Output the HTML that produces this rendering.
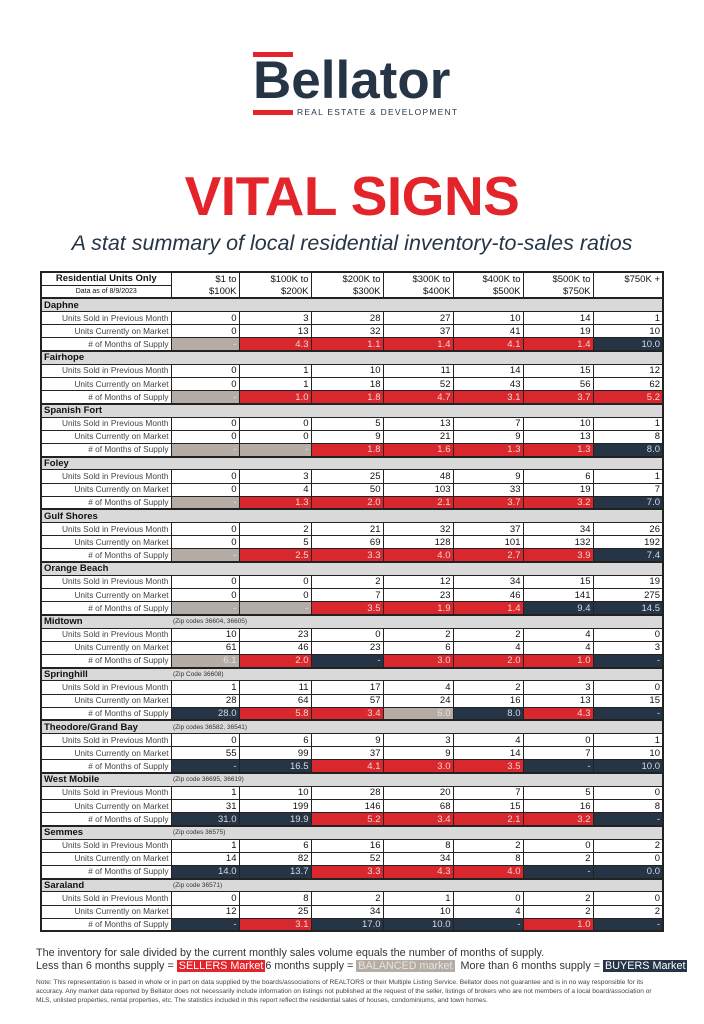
<!DOCTYPE html>
<html><head><meta charset="utf-8"><style>
*{margin:0;padding:0;box-sizing:border-box}
body{width:704px;height:1024px;background:#fff;position:relative;font-family:"Liberation Sans",sans-serif;overflow:hidden}
.bar{position:absolute;background:#e3242b;height:5px;width:40px;left:253px}
.logo{position:absolute;left:253px;top:50px;font-size:53px;font-weight:bold;color:#263545;letter-spacing:0px}
.sub{position:absolute;left:297px;top:107px;font-size:8.4px;color:#263545;letter-spacing:1.3px}
.title{position:absolute;left:0;width:704px;text-align:center;top:164px;font-size:55px;font-weight:bold;color:#e3242b;letter-spacing:-0.5px}
.tag{position:absolute;left:0;width:704px;text-align:center;top:231px;font-size:21.5px;font-style:italic;color:#263545}
table{position:absolute;left:40px;top:271px;border-collapse:collapse;table-layout:fixed;border:2px solid #222;font-size:9.5px}
td{height:13.2px;border:1px solid #222;padding:0 2px;text-align:right;line-height:11px;color:#111;white-space:nowrap;overflow:hidden}
td.l{text-align:right;color:#444;font-size:8.3px;border-left:none}
tr.h td{text-align:right}
tr.s td{background:#d9d9d9;text-align:left;font-weight:bold;border-left:none;border-right:none;border-top:2px solid #222}
tr.s td.z{font-weight:normal;font-size:6.5px;color:#333}
.r{background:#d9272e;color:#f2d4d4}.g{background:#b5ada5;color:#e6e0dc}.n{background:#253546;color:#d8dde2}
.f1{position:absolute;left:36px;top:947px;font-size:10.8px;color:#333}
.f2{position:absolute;left:36px;top:960px;font-size:10.8px;color:#333}
.f2 span{padding:0 2px}
.note{position:absolute;left:36px;top:978px;font-size:6.6px;color:#444;line-height:9px;width:632px}
</style></head><body>
<div class="bar" style="top:52px"></div>
<div class="logo">Bellator</div>
<div class="bar" style="top:110px"></div>
<div class="sub">REAL ESTATE &amp; DEVELOPMENT</div>
<div class="title">VITAL SIGNS</div>
<div class="tag">A stat summary of local residential inventory-to-sales ratios</div>
<table>
<colgroup><col style="width:130px"><col style="width:68px"><col style="width:72px"><col style="width:72px"><col style="width:70px"><col style="width:70px"><col style="width:70px"><col style="width:70px"></colgroup>
<tr class="h"><td style="text-align:center;font-weight:bold;color:#111">Residential Units Only</td><td style="border-bottom:none">$1 to</td><td style="border-bottom:none">$100K to</td><td style="border-bottom:none">$200K to</td><td style="border-bottom:none">$300K to</td><td style="border-bottom:none">$400K to</td><td style="border-bottom:none">$500K to</td><td style="border-bottom:none">$750K +</td></tr>
<tr class="h"><td style="text-align:center;font-size:7px">Data as of 8/9/2023</td><td style="border-top:none">$100K</td><td style="border-top:none">$200K</td><td style="border-top:none">$300K</td><td style="border-top:none">$400K</td><td style="border-top:none">$500K</td><td style="border-top:none">$750K</td><td style="border-top:none"></td></tr>

<tr class="s"><td colspan="8">Daphne</td></tr>
<tr><td class="l">Units Sold in Previous Month</td><td>0</td><td>3</td><td>28</td><td>27</td><td>10</td><td>14</td><td>1</td></tr>
<tr><td class="l">Units Currently on Market</td><td>0</td><td>13</td><td>32</td><td>37</td><td>41</td><td>19</td><td>10</td></tr>
<tr><td class="l"># of Months of Supply</td><td class="g">-</td><td class="r">4.3</td><td class="r">1.1</td><td class="r">1.4</td><td class="r">4.1</td><td class="r">1.4</td><td class="n">10.0</td></tr>

<tr class="s"><td colspan="8">Fairhope</td></tr>
<tr><td class="l">Units Sold in Previous Month</td><td>0</td><td>1</td><td>10</td><td>11</td><td>14</td><td>15</td><td>12</td></tr>
<tr><td class="l">Units Currently on Market</td><td>0</td><td>1</td><td>18</td><td>52</td><td>43</td><td>56</td><td>62</td></tr>
<tr><td class="l"># of Months of Supply</td><td class="g">-</td><td class="r">1.0</td><td class="r">1.8</td><td class="r">4.7</td><td class="r">3.1</td><td class="r">3.7</td><td class="r">5.2</td></tr>

<tr class="s"><td colspan="8">Spanish Fort</td></tr>
<tr><td class="l">Units Sold in Previous Month</td><td>0</td><td>0</td><td>5</td><td>13</td><td>7</td><td>10</td><td>1</td></tr>
<tr><td class="l">Units Currently on Market</td><td>0</td><td>0</td><td>9</td><td>21</td><td>9</td><td>13</td><td>8</td></tr>
<tr><td class="l"># of Months of Supply</td><td class="g">-</td><td class="g">-</td><td class="r">1.8</td><td class="r">1.6</td><td class="r">1.3</td><td class="r">1.3</td><td class="n">8.0</td></tr>

<tr class="s"><td colspan="8">Foley</td></tr>
<tr><td class="l">Units Sold in Previous Month</td><td>0</td><td>3</td><td>25</td><td>48</td><td>9</td><td>6</td><td>1</td></tr>
<tr><td class="l">Units Currently on Market</td><td>0</td><td>4</td><td>50</td><td>103</td><td>33</td><td>19</td><td>7</td></tr>
<tr><td class="l"># of Months of Supply</td><td class="g">-</td><td class="r">1.3</td><td class="r">2.0</td><td class="r">2.1</td><td class="r">3.7</td><td class="r">3.2</td><td class="n">7.0</td></tr>

<tr class="s"><td colspan="8">Gulf Shores</td></tr>
<tr><td class="l">Units Sold in Previous Month</td><td>0</td><td>2</td><td>21</td><td>32</td><td>37</td><td>34</td><td>26</td></tr>
<tr><td class="l">Units Currently on Market</td><td>0</td><td>5</td><td>69</td><td>128</td><td>101</td><td>132</td><td>192</td></tr>
<tr><td class="l"># of Months of Supply</td><td class="g">-</td><td class="r">2.5</td><td class="r">3.3</td><td class="r">4.0</td><td class="r">2.7</td><td class="r">3.9</td><td class="n">7.4</td></tr>

<tr class="s"><td colspan="8">Orange Beach</td></tr>
<tr><td class="l">Units Sold in Previous Month</td><td>0</td><td>0</td><td>2</td><td>12</td><td>34</td><td>15</td><td>19</td></tr>
<tr><td class="l">Units Currently on Market</td><td>0</td><td>0</td><td>7</td><td>23</td><td>46</td><td>141</td><td>275</td></tr>
<tr><td class="l"># of Months of Supply</td><td class="g">-</td><td class="g">-</td><td class="r">3.5</td><td class="r">1.9</td><td class="r">1.4</td><td class="n">9.4</td><td class="n">14.5</td></tr>

<tr class="s"><td>Midtown</td><td colspan="7" class="z">(Zip codes 36604, 36605)</td></tr>
<tr><td class="l">Units Sold in Previous Month</td><td>10</td><td>23</td><td>0</td><td>2</td><td>2</td><td>4</td><td>0</td></tr>
<tr><td class="l">Units Currently on Market</td><td>61</td><td>46</td><td>23</td><td>6</td><td>4</td><td>4</td><td>3</td></tr>
<tr><td class="l"># of Months of Supply</td><td class="g">6.1</td><td class="r">2.0</td><td class="n">-</td><td class="r">3.0</td><td class="r">2.0</td><td class="r">1.0</td><td class="n">-</td></tr>

<tr class="s"><td>Springhill</td><td colspan="7" class="z">(Zip Code 36608)</td></tr>
<tr><td class="l">Units Sold in Previous Month</td><td>1</td><td>11</td><td>17</td><td>4</td><td>2</td><td>3</td><td>0</td></tr>
<tr><td class="l">Units Currently on Market</td><td>28</td><td>64</td><td>57</td><td>24</td><td>16</td><td>13</td><td>15</td></tr>
<tr><td class="l"># of Months of Supply</td><td class="n">28.0</td><td class="r">5.8</td><td class="r">3.4</td><td class="g">6.0</td><td class="n">8.0</td><td class="r">4.3</td><td class="n">-</td></tr>

<tr class="s"><td>Theodore/Grand Bay</td><td colspan="7" class="z">(Zip codes 36582, 36541)</td></tr>
<tr><td class="l">Units Sold in Previous Month</td><td>0</td><td>6</td><td>9</td><td>3</td><td>4</td><td>0</td><td>1</td></tr>
<tr><td class="l">Units Currently on Market</td><td>55</td><td>99</td><td>37</td><td>9</td><td>14</td><td>7</td><td>10</td></tr>
<tr><td class="l"># of Months of Supply</td><td class="n">-</td><td class="n">16.5</td><td class="r">4.1</td><td class="r">3.0</td><td class="r">3.5</td><td class="n">-</td><td class="n">10.0</td></tr>

<tr class="s"><td>West Mobile</td><td colspan="7" class="z">(Zip code 36695, 36619)</td></tr>
<tr><td class="l">Units Sold in Previous Month</td><td>1</td><td>10</td><td>28</td><td>20</td><td>7</td><td>5</td><td>0</td></tr>
<tr><td class="l">Units Currently on Market</td><td>31</td><td>199</td><td>146</td><td>68</td><td>15</td><td>16</td><td>8</td></tr>
<tr><td class="l"># of Months of Supply</td><td class="n">31.0</td><td class="n">19.9</td><td class="r">5.2</td><td class="r">3.4</td><td class="r">2.1</td><td class="r">3.2</td><td class="n">-</td></tr>

<tr class="s"><td>Semmes</td><td colspan="7" class="z">(Zip codes 36575)</td></tr>
<tr><td class="l">Units Sold in Previous Month</td><td>1</td><td>6</td><td>16</td><td>8</td><td>2</td><td>0</td><td>2</td></tr>
<tr><td class="l">Units Currently on Market</td><td>14</td><td>82</td><td>52</td><td>34</td><td>8</td><td>2</td><td>0</td></tr>
<tr><td class="l"># of Months of Supply</td><td class="n">14.0</td><td class="n">13.7</td><td class="r">3.3</td><td class="r">4.3</td><td class="r">4.0</td><td class="n">-</td><td class="n">0.0</td></tr>

<tr class="s"><td>Saraland</td><td colspan="7" class="z">(Zip code 36571)</td></tr>
<tr><td class="l">Units Sold in Previous Month</td><td>0</td><td>8</td><td>2</td><td>1</td><td>0</td><td>2</td><td>0</td></tr>
<tr><td class="l">Units Currently on Market</td><td>12</td><td>25</td><td>34</td><td>10</td><td>4</td><td>2</td><td>2</td></tr>
<tr><td class="l"># of Months of Supply</td><td class="n">-</td><td class="r">3.1</td><td class="n">17.0</td><td class="n">10.0</td><td class="n">-</td><td class="r">1.0</td><td class="n">-</td></tr>
</table>
<div class="f1">The inventory for sale divided by the current monthly sales volume equals the number of months of supply.</div>
<div class="f2">Less than 6 months supply = <span style="background:#e3242b;color:#fff">SELLERS Market</span>6 months supply = <span style="background:#b5ada5;color:#e8e4e0">BALANCED market</span>&nbsp; More than 6 months supply = <span style="background:#253546;color:#fff">BUYERS Market</span></div>
<div class="note">Note: This representation is based in whole or in part on data supplied by the boards/associations of REALTORS or their Multiple Listing Service. Bellator does not guarantee and is in no way responsible for its accuracy. Any market data reported by Bellator does not necessarily include information on listings not published at the request of the seller, listings of brokers who are not members of a local board/association or MLS, unlisted properties, rental properties, etc. The statistics included in this report reflect the residential sales of houses, condominiums, and town homes.</div>
</body></html>
